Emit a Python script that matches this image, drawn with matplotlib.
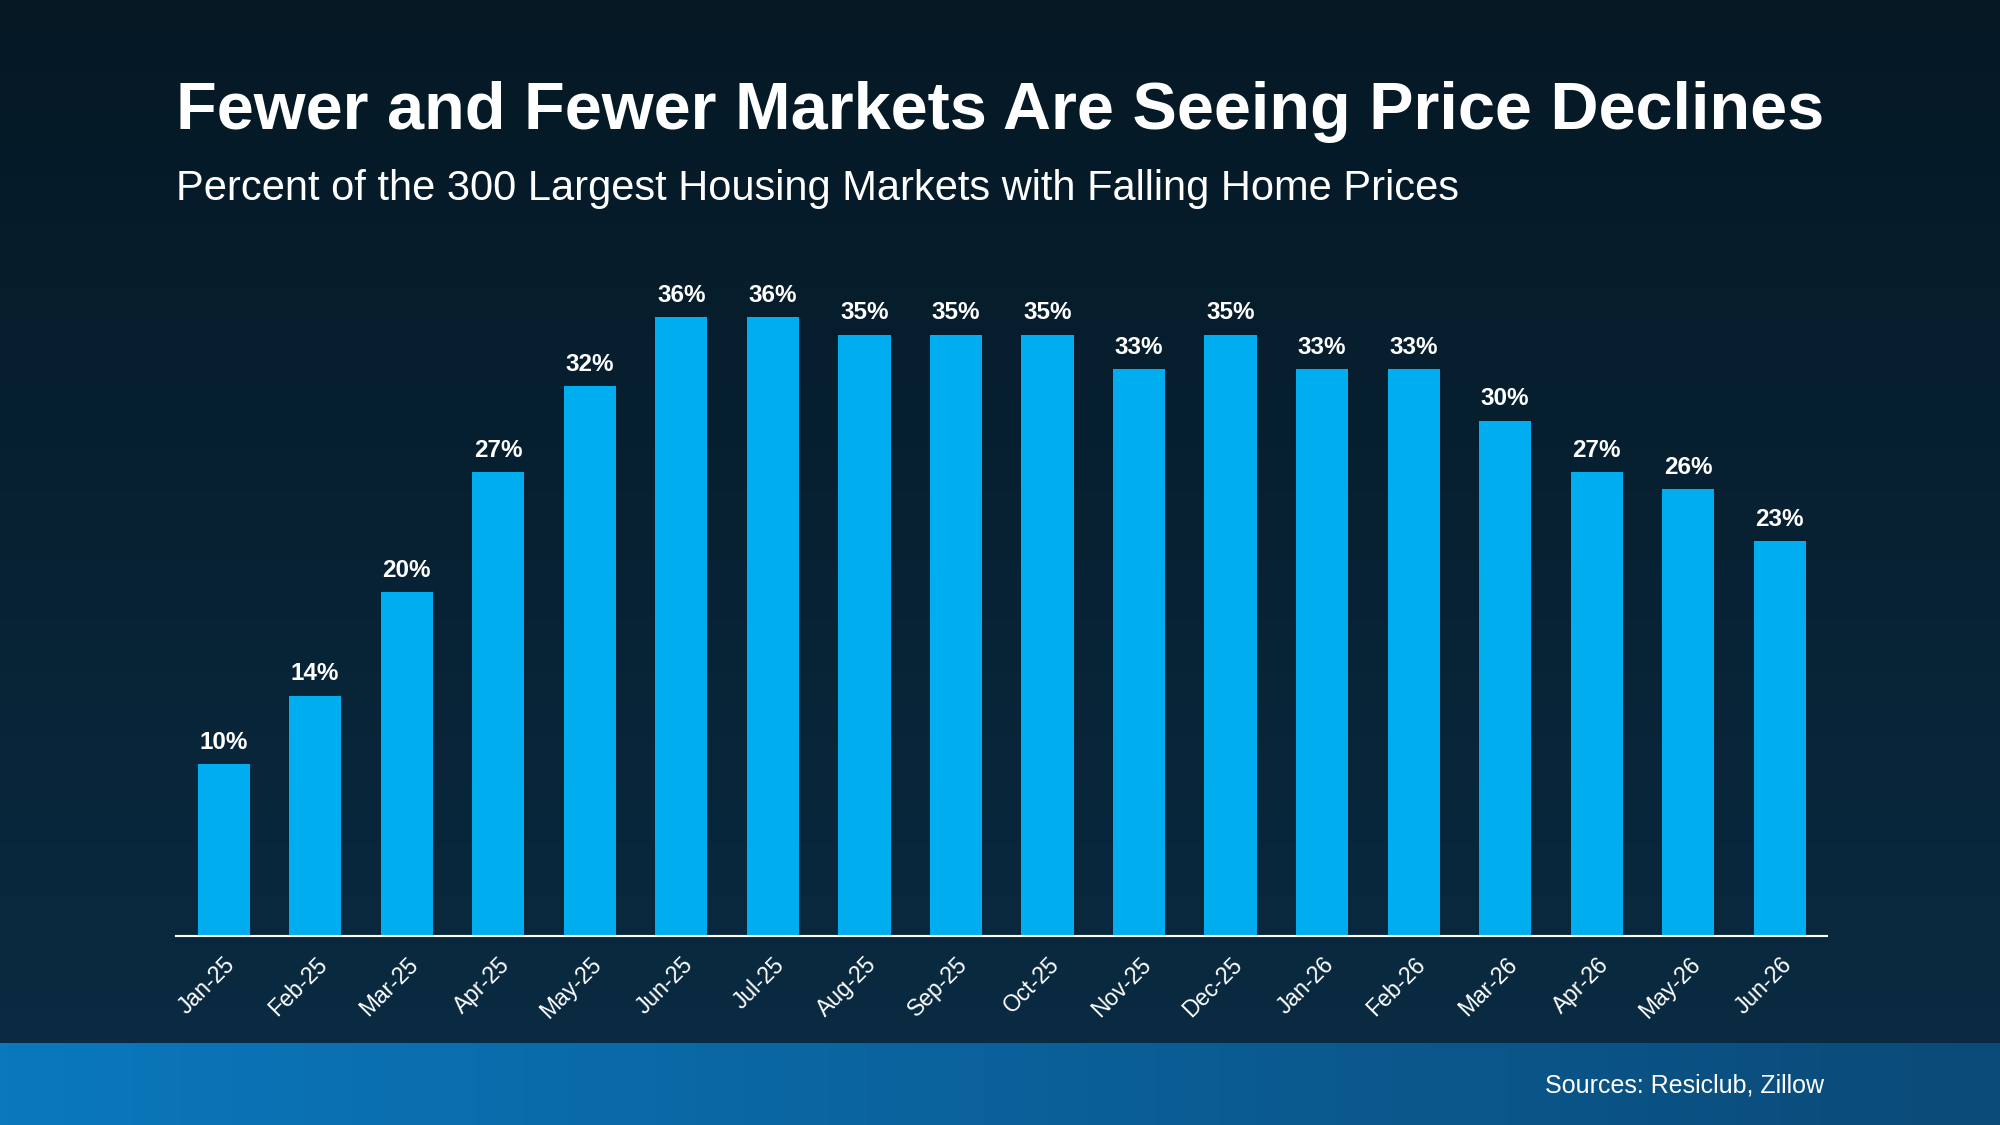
import numpy as np
import matplotlib.pyplot as plt
from matplotlib.colors import LinearSegmentedColormap

months = ["Jan-25", "Feb-25", "Mar-25", "Apr-25", "May-25", "Jun-25", "Jul-25", "Aug-25", "Sep-25",
          "Oct-25", "Nov-25", "Dec-25", "Jan-26", "Feb-26", "Mar-26", "Apr-26", "May-26", "Jun-26"]
values = [10, 14, 20, 27, 32, 36, 36, 35, 35, 35, 33, 35, 33, 33, 30, 27, 26, 23]

plt.rcParams['font.family'] = ['Liberation Sans', 'DejaVu Sans']
fig = plt.figure(figsize=(20, 11.25), dpi=100)

# background gradient
bg = fig.add_axes([0, 0, 1, 1])
bg_cmap = LinearSegmentedColormap.from_list("bg", ["#0a2c44", "#051824"])
bg.imshow(np.linspace(0, 1, 256).reshape(-1, 1), cmap=bg_cmap, aspect='auto',
          extent=[0, 1, 0, 1], origin='lower')
# bottom band
band_cmap = LinearSegmentedColormap.from_list("band", ["#0a78bd", "#0a4a78"])
band_top = 1 - 818 / 882
bg.imshow(np.linspace(0, 1, 256).reshape(1, -1), cmap=band_cmap, aspect='auto',
          extent=[0, 1, 0, band_top], zorder=2)
bg.set_xlim(0, 1)
bg.set_ylim(0, 1)
bg.axis('off')

fig.text(138 / 1568, 1 - 88 / 882, "Fewer and Fewer Markets Are Seeing Price Declines",
         color='white', fontsize=48, fontweight='bold', va='center', ha='left')
fig.text(138 / 1568, 1 - 148 / 882, "Percent of the 300 Largest Housing Markets with Falling Home Prices",
         color='white', fontsize=30, va='center', ha='left')
fig.text(1430 / 1568, 1 - 851 / 882, "Sources: Resiclub, Zillow",
         color='white', fontsize=18, va='center', ha='right')

ax = fig.add_axes([138 / 1568, 1 - 734 / 882, (1432 - 138) / 1568, 539 / 882])
ax.patch.set_alpha(0)
x = np.arange(len(values))
ax.bar(x, values, width=0.57, color='#00aeef')
for xi, v in zip(x, values):
    ax.text(xi, v + 0.6, f"{v}%", color='white', fontsize=17.5, fontweight='bold',
            ha='center', va='bottom')
ax.set_xlim(-0.52, 17.51)
ax.set_ylim(0, 40)
ax.set_xticks(x)
ax.set_xticklabels(months, rotation=45, ha='right', rotation_mode='anchor',
                   color='white', fontsize=16.5)
ax.tick_params(axis='x', length=0, pad=12)
ax.set_yticks([])
for s in ['top', 'right', 'left']:
    ax.spines[s].set_visible(False)
ax.spines['bottom'].set_color('white')
ax.spines['bottom'].set_linewidth(1.5)

fig.savefig("out.png", dpi=100)
